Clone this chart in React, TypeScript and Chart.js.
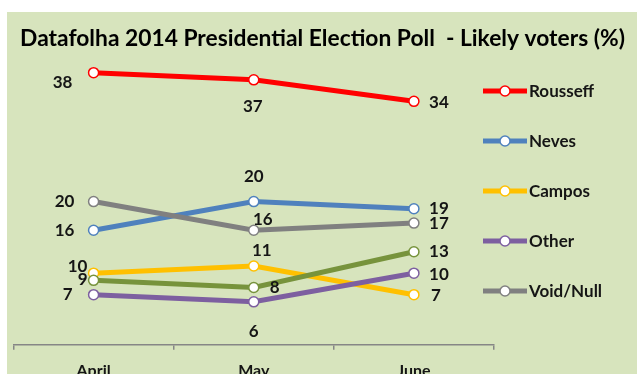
import React, { useEffect, useRef } from "react";
import { Chart, registerables } from "chart.js";

Chart.register(...registerables);

const months = ["April", "May", "June"];
const rousseff = [38, 37, 34];
const neves = [16, 20, 19];
const campos = [10, 11, 7];
const other = [7, 6, 10];
const voidNull = [20, 16, 17];
const unlabeledSeries = [9, 8, 13];
const seriesNames = ["Rousseff", "Neves", "Campos", "Other", "Void/Null", ""];
const titleText = "Datafolha 2014 Presidential Election Poll  - Likely voters (%)";

const BG = "#D7E4BD";
const FONT = "Lato, 'Liberation Sans', sans-serif";

// label offsets (dx, dy) relative to the point, per series / per point
const labelOffsets: number[][][] = [
  [[-31, 10], [-1, 27], [25, 1]],
  [[-29, 0], [0, -25], [25, 0]],
  [[-16, -7], [8, -16], [22, 1]],
  [[-26, 0], [0, 30], [25, 1]],
  [[-29, 0], [9, -11], [25, 0]],
  [[-11, -1], [21, 0], [25, 0]],
];

const colors = ["#FF0000", "#4F81BD", "#FFC000", "#7D5FA0", "#808080", "#77933C"];

const labelPlugin = {
  id: "valueLabels",
  afterDatasetsDraw(chart: any) {
    const ctx = chart.ctx;
    ctx.save();
    ctx.font = `bold 17px ${FONT}`;
    ctx.fillStyle = "#151515";
    ctx.textAlign = "center";
    ctx.textBaseline = "middle";
    chart.data.datasets.forEach((ds: any, i: number) => {
      const meta = chart.getDatasetMeta(i);
      meta.data.forEach((pt: any, j: number) => {
        const off = labelOffsets[i][j];
        ctx.fillText(String(ds.data[j]), pt.x + off[0], pt.y + off[1]);
      });
    });
    ctx.restore();
  },
};

const legendPlugin = {
  id: "sideLegend",
  afterDraw(chart: any) {
    const ctx = chart.ctx;
    const area = chart.chartArea;
    ctx.save();
    const x0 = area.right - 11;
    const lineW = 44;
    const startY = 79;
    const step = 50;
    chart.data.datasets.forEach((ds: any, i: number) => {
      if (!ds.label) return;
      const y = startY + i * step;
      ctx.strokeStyle = ds.borderColor;
      ctx.lineWidth = 5;
      ctx.lineCap = "butt";
      ctx.beginPath();
      ctx.moveTo(x0, y);
      ctx.lineTo(x0 + lineW, y);
      ctx.stroke();
      ctx.beginPath();
      ctx.arc(x0 + lineW / 2, y, 5, 0, Math.PI * 2);
      ctx.fillStyle = "#FFFFFF";
      ctx.fill();
      ctx.lineWidth = 1.5;
      ctx.stroke();
      ctx.font = `bold 17px ${FONT}`;
      ctx.fillStyle = "#151515";
      ctx.textAlign = "left";
      ctx.textBaseline = "middle";
      ctx.fillText(ds.label, x0 + lineW + 2, y + 1);
    });
    ctx.restore();
  },
};

const bgPlugin = {
  id: "bg",
  beforeDraw(chart: any) {
    const ctx = chart.ctx;
    ctx.save();
    ctx.fillStyle = BG;
    ctx.fillRect(0, 0, chart.width, chart.height);
    ctx.restore();
  },
};

export default function App() {
  const ref = useRef<HTMLCanvasElement>(null);
  useEffect(() => {
    if (!ref.current) return;
    const all = [rousseff, neves, campos, other, voidNull, unlabeledSeries];
    const chart = new Chart(ref.current, {
      type: "line",
      data: {
        labels: months,
        datasets: all.map((d, i) => ({
          label: seriesNames[i],
          data: d,
          borderColor: colors[i],
          backgroundColor: "#FFFFFF",
          borderWidth: 5,
          pointRadius: 5,
          pointHoverRadius: 5,
          pointBorderWidth: 1.5,
          pointBackgroundColor: "#FFFFFF",
          pointBorderColor: colors[i],
          tension: 0,
          fill: false,
          order: 10 - i,
          yAxisID: "y",
        })),
      },
      options: {
        responsive: false,
        animation: false,
        devicePixelRatio: 1,
        layout: { padding: { left: 1, right: 0, top: 0, bottom: 1 } },
        plugins: {
          legend: { display: false },
          tooltip: { enabled: false },
          title: {
            display: true,
            text: titleText,
            color: "#000000",
            font: { family: FONT, size: 22.8, weight: "bold" },
            padding: { top: 12.5, bottom: 6.5 },
          },
        },
        scales: {
          x: {
            type: "category",
            offset: true,
            grid: {
              display: true,
              drawOnChartArea: false,
              drawTicks: true,
              tickLength: 5,
              offset: true,
              color: "#868686",
              lineWidth: 1.5,
            },
            border: { display: true, color: "#868686", width: 1.5 },
            ticks: {
              color: "#151515",
              font: { family: FONT, size: 16, weight: "bold" },
              padding: 11,
            },
          },
          y: {
            display: false,
            min: 0,
            max: 40,
          },
          legendSpace: {
            type: "linear",
            position: "right",
            display: true,
            grid: { display: false, drawTicks: false },
            border: { display: false },
            ticks: { display: false },
            afterFit(scale: any) {
              scale.width = 143;
            },
          },
        },
      },
      plugins: [bgPlugin, labelPlugin, legendPlugin],
    });
    return () => chart.destroy();
  }, []);
  return (
    <div style={{ position: "fixed", left: 7, top: 12, right: 0, bottom: 0, overflow: "hidden", background: "#FFFFFF" }}>
      <canvas ref={ref} width={630} height={380} style={{ display: "block" }} />
    </div>
  );
}
